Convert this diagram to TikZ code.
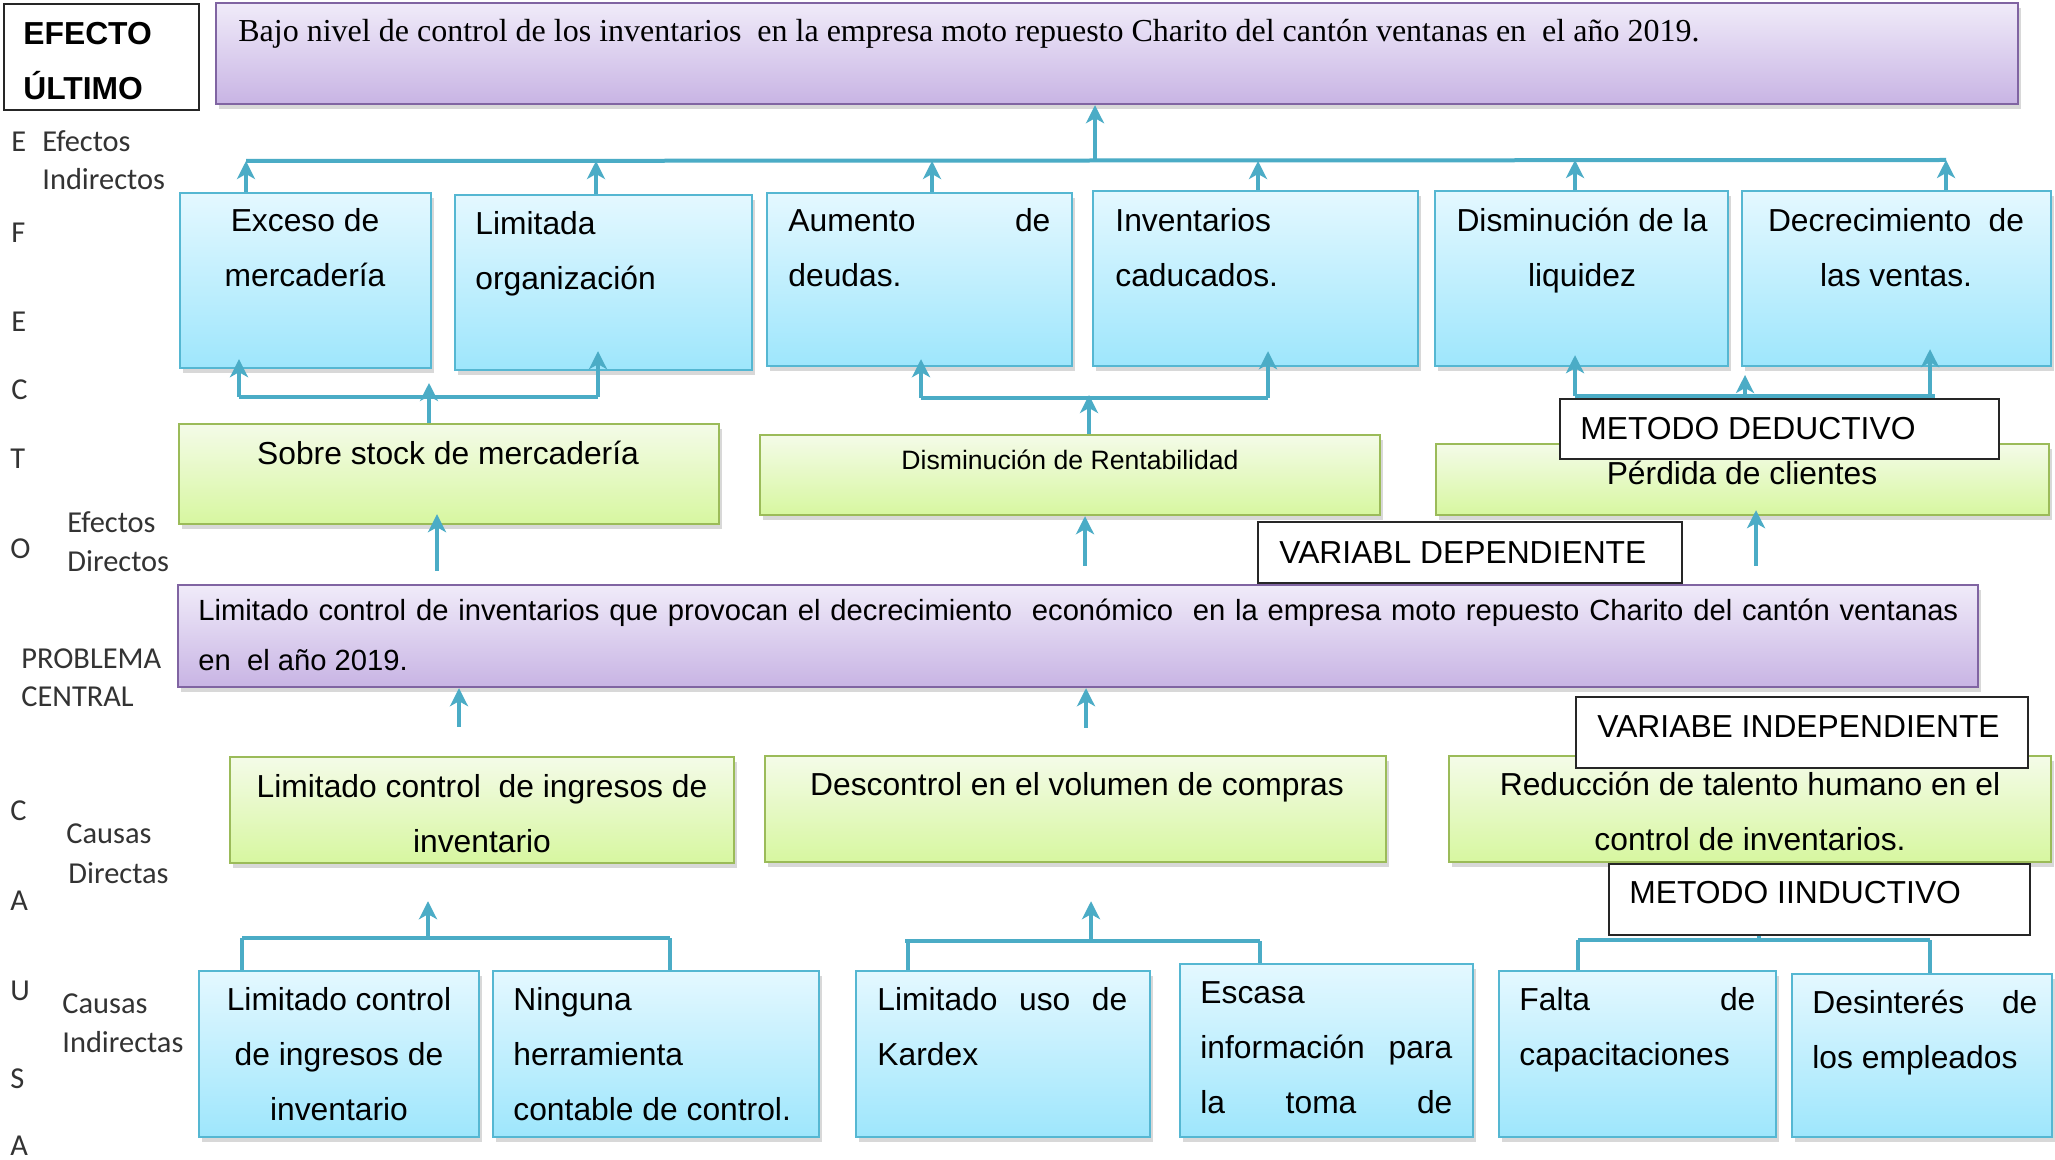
\documentclass[tikz,border=0pt]{standalone}
\usepackage{fontspec}
\setmainfont{Liberation Sans}
\newfontfamily\tmsfont{Liberation Serif}
\newfontfamily\calfont{Carlito}
\usetikzlibrary{arrows.meta,shadows,fit}
\newlength\px \setlength\px{0.5pt}
\definecolor{arrowc}{RGB}{75,172,198}
\definecolor{bluebd}{RGB}{85,183,210}
\definecolor{bluetop}{RGB}{228,248,255}
\definecolor{bluebot}{RGB}{158,230,252}
\definecolor{greenbd}{RGB}{155,187,89}
\definecolor{greentop}{RGB}{244,251,232}
\definecolor{greenbot}{RGB}{215,247,160}
\definecolor{purpbd}{RGB}{128,100,162}
\definecolor{purptop}{RGB}{240,235,249}
\definecolor{purpbot}{RGB}{200,180,228}
\newcommand\Lc[2][55]{\vtop{\baselineskip=#1\px\lineskiplimit=-100pt\halign{\hfil##\hfil\cr#2\crcr}}}
\newcommand\Ll[2][55]{\vtop{\baselineskip=#1\px\lineskiplimit=-100pt\halign{##\hfil\cr#2\crcr}}}
\begin{document}
\begin{tikzpicture}[x=0.5pt,y=-0.5pt,
  box/.style={inner sep=0pt, line width=1.2pt},
  shad/.style={drop shadow={shadow xshift=1.5pt,shadow yshift=-2.5pt,opacity=.3}},
  bluebox/.style={box, shad, draw=bluebd, top color=bluetop, bottom color=bluebot},
  greenbox/.style={box, shad, draw=greenbd, top color=greentop, bottom color=greenbot},
  purpbox/.style={box, shad, draw=purpbd, top color=purptop, bottom color=purpbot},
  whitebox/.style={inner sep=0pt, draw=black!85, line width=0.9pt, fill=white},
  txt/.style={inner sep=0pt, anchor=base west, font=\fontsize{15.9}{19}\selectfont},
  ctxt/.style={txt, anchor=base},
  lbl/.style={inner sep=0pt, anchor=base west, text=black!80, font=\calfont\fontsize{15.2}{18}\selectfont},
  conn/.style={draw=arrowc, line width=2pt},
  arr/.style={conn, -{Stealth[length=9pt,width=9pt,inset=2.5pt]}},
]
\useasboundingbox (0,0) rectangle (2055,1160);
\fill[white] (0,0) rectangle (2055,1160);

% ---------- boxes ----------
\node[purpbox, fit={(216,3)(2018,104)}] (top) {};
\node[bluebox, fit={(180,193)(431,368)}] (e1) {};
\node[bluebox, fit={(455,195)(752,370)}] (e2) {};
\node[bluebox, fit={(767,193)(1072,366)}] (e3) {};
\node[bluebox, fit={(1093,191)(1418,366)}] (e4) {};
\node[bluebox, fit={(1435,191)(1728,366)}] (e5) {};
\node[bluebox, fit={(1742,191)(2051,366)}] (e6) {};
\node[greenbox, fit={(179,424)(719,524)}] (d1) {};
\node[greenbox, fit={(760,435)(1380,515)}] (d2) {};
\node[greenbox, fit={(1436,444)(2049,515)}] (d3) {};
\node[purpbox, fit={(178,585)(1978,687)}] (prob) {};
\node[greenbox, fit={(230,757)(734,863)}] (c1) {};
\node[greenbox, fit={(765,756)(1386,862)}] (c2) {};
\node[greenbox, fit={(1449,756)(2051,862)}] (c3) {};
\node[bluebox, fit={(199,971)(479,1137)}] (i1) {};
\node[bluebox, fit={(493,971)(819,1137)}] (i2) {};
\node[bluebox, fit={(856,971)(1150,1137)}] (i3) {};
\node[bluebox, fit={(1180,964)(1473,1137)}] (i4) {};
\node[bluebox, fit={(1499,971)(1776,1137)}] (i5) {};
\node[bluebox, fit={(1792,974)(2052,1137)}] (i6) {};

% ---------- connectors ----------
\coordinate (tb1) at (246,161);
\coordinate (tb2) at (596,161);
\coordinate (tb3) at (932,161);
\coordinate (tb4) at (1258,161);
\coordinate (tb5) at (1575,160);
\coordinate (tb6) at (1946,160);
\coordinate (tbm) at (1095,161);
\draw[conn] (tb1) -- (tb6);
\draw[arr] (tbm) -- (top.south -| tbm);
\draw[arr] (e1.north -| tb1) -- (tb1);
\draw[arr] (e2.north -| tb2) -- (tb2);
\draw[arr] (e3.north -| tb3) -- (tb3);
\draw[arr] (e4.north -| tb4) -- (tb4);
\draw[arr] (e5.north -| tb5) -- (tb5);
\draw[arr] (e6.north -| tb6) -- (tb6);

% group 1
\coordinate (g1l) at (239,397);
\coordinate (g1r) at (598,397);
\coordinate (g1m) at (429,397);
\draw[conn] (g1l) -- (g1r);
\draw[arr, shorten >=-5pt] (g1l) -- (e1.south -| g1l);
\draw[arr, shorten >=-10pt] (g1r) -- (e2.south -| g1r);
\draw[arr, shorten >=-7pt] (d1.north -| g1m) -- (g1m);
% group 2
\coordinate (g2l) at (921,398);
\coordinate (g2r) at (1268,398);
\coordinate (g2m) at (1089,398);
\draw[conn] (g2l) -- (g2r);
\draw[arr, shorten >=-4pt] (g2l) -- (e3.south -| g2l);
\draw[arr, shorten >=-8pt] (g2r) -- (e4.south -| g2r);
\draw[arr, shorten >=-1.5pt] (d2.north -| g2m) -- (g2m);
% group 3
\coordinate (g3l) at (1575,396);
\coordinate (g3r) at (1935,396);
\coordinate (g3v) at (1930,396);
\coordinate (g3m) at (1745,396);
\draw[conn] (g3l) -- (g3r);
\draw[arr, shorten >=-6pt] (g3l) -- (e5.south -| g3l);
\draw[arr, shorten >=-9pt] (g3v) -- (e6.south -| g3v);
\draw[arr, shorten >=-10.5pt] (d3.north -| g3m) -- (g3m);

% problem -> direct effects
\coordinate (px1) at (437,585);
\coordinate (px2) at (1085,585);
\coordinate (px3) at (1756,585);
\draw[arr, shorten <=6.5pt, shorten >=-5.5pt] (prob.north -| px1) -- (d1.south -| px1);
\draw[arr, shorten <=9pt] (prob.north -| px2) -- (d2.south -| px2);
\draw[arr, shorten <=9pt, shorten >=-3pt] (prob.north -| px3) -- (d3.south -| px3);

% direct causes -> problem
\coordinate (cx1) at (459,700);
\coordinate (cx2) at (1086,700);
\draw[arr, shorten <=14.5pt] (c1.north -| cx1) -- (prob.south -| cx1);
\draw[arr, shorten <=13.5pt] (c2.north -| cx2) -- (prob.south -| cx2);

% indirect group A
\coordinate (gal) at (242,938);
\coordinate (gar) at (670,938);
\coordinate (gam) at (428,938);
\draw[conn] (gal) -- (gar);
\draw[conn] (i1.north -| gal) -- (gal);
\draw[conn] (i2.north -| gar) -- (gar);
\draw[arr, shorten >=18.5pt] (gam) -- (c1.south -| gam);
% indirect group B
\coordinate (gbl) at (908,941);
\coordinate (gbr) at (1260,941);
\coordinate (gbm) at (1091,941);
\draw[conn] ([xshift=-1.5pt]gbl) -- (gbr);
\draw[conn] (i3.north -| gbl) -- (gbl);
\draw[conn] (i4.north -| gbr) -- (gbr);
\draw[arr, shorten >=19pt] (gbm) -- (c2.south -| gbm);
% indirect group C
\coordinate (gcl) at (1578,940);
\coordinate (gcr) at (1930,940);
\coordinate (gcm) at (1759,940);
\draw[conn] (gcl) -- (gcr);
\draw[conn] (i5.north -| gcl) -- (gcl);
\draw[conn] (i6.north -| gcr) -- (gcr);
\draw[arr, shorten >=19pt] (gcm) -- (c3.south -| gcm);

% ---------- white label boxes ----------
\node[whitebox, fit={(4,4)(199,110)}] (efu) {};
\node[whitebox, fit={(1560,399)(1999,459)}] (metded) {};
\node[whitebox, fit={(1258,522)(1682,583)}] (vardep) {};
\node[whitebox, fit={(1576,697)(2028,768)}] (varind) {};
\node[whitebox, fit={(1609,864)(2030,935)}] (metind) {};

% ---------- texts ----------
\node[txt, font=\bfseries\fontsize{15.9}{19}\selectfont] (efut) at (23,45) {\Ll{EFECTO\cr ÚLTIMO}};
\node[txt, font=\tmsfont\fontsize{16}{19}\selectfont] (topt) at (238,42) {Bajo nivel de control de los inventarios\ \ en la empresa moto repuesto Charito del cantón ventanas en\ \ el año 2019.};

\node[ctxt] (e1t) at (305,232) {\Lc{Exceso de\cr mercadería}};
\node[txt] (e2t) at (475,235) {\Ll{Limitada\cr organización}};
\node[txt] (e3t) at (788,232) {\Ll{\makebox[262\px][s]{Aumento de}\cr deudas.}};
\node[txt] (e4t) at (1115,232) {\Ll{Inventarios\cr caducados.}};
\node[ctxt] (e5t) at (1582,232) {\Lc{Disminución de la\cr liquidez}};
\node[ctxt] (e6t) at (1896,232) {\Lc{\makebox[256\px][s]{Decrecimiento de}\cr las ventas.}};

\node[ctxt] (d1t) at (448,465) {Sobre stock de mercadería};
\node[ctxt, font=\fontsize{13.3}{16}\selectfont] (d2t) at (1070,469) {Disminución de Rentabilidad};
\node[ctxt] (d3t) at (1742,484) {Pérdida de clientes};

\node[txt, font=\fontsize{14.6}{17}\selectfont] (pt) at (198,620) {\Ll[50]{\makebox[1760\px][s]{Limitado control de inventarios que provocan el decrecimiento\ \ económico\ \ en la empresa moto repuesto Charito del cantón ventanas}\cr en\ \ el año 2019.}};

\node[ctxt] (c1t) at (482,797) {\Lc{Limitado control\ \ de ingresos de\cr inventario}};
\node[ctxt] (c2t) at (1077,795) {Descontrol en el volumen de compras};
\node[ctxt] (c3t) at (1750,795) {\Lc{Reducción de talento humano en el\cr control de inventarios.}};

\node[ctxt] (i1t) at (339,1010) {\Lc{Limitado control\cr de ingresos de\cr inventario}};
\node[txt] (i2t) at (513,1010) {\Ll{Ninguna\cr herramienta\cr contable de control.}};
\node[txt] (i3t) at (877,1010) {\Ll{\makebox[250\px][s]{Limitado uso de}\cr Kardex}};
\node[txt] (i4t) at (1200,1003) {\Ll{Escasa\cr \makebox[252\px][s]{información para}\cr \makebox[252\px][s]{la toma de}}};
\node[txt] (i5t) at (1519,1010) {\Ll{\makebox[236\px][s]{Falta de}\cr capacitaciones}};
\node[txt] (i6t) at (1812,1013) {\Ll{\makebox[225\px][s]{Desinterés de}\cr los empleados}};

\node[txt] (mdt) at (1580,439) {METODO DEDUCTIVO};
\node[txt] (vdt) at (1279,563) {VARIABL DEPENDIENTE};
\node[txt] (vit) at (1597,737) {VARIABE INDEPENDIENTE};
\node[txt] (mit) at (1629,903) {METODO IINDUCTIVO};

% ---------- left labels ----------
\node[lbl] (l1) at (11,152) {E};
\node[lbl] (l2) at (42,152) {Efectos};
\node[lbl] (l3) at (42,190) {Indirectos};
\node[lbl] (l4) at (11,243) {F};
\node[lbl] (l5) at (11,332) {E};
\node[lbl] (l6) at (11,400) {C};
\node[lbl] (l7) at (10,468) {T};
\node[lbl] (l8) at (10,558) {O};
\node[lbl] (l9) at (67,532) {Efectos};
\node[lbl] (l10) at (67,571) {Directos};
\node[lbl] (l11) at (21,668) {PROBLEMA};
\node[lbl] (l12) at (21,706) {CENTRAL};
\node[lbl] (l13) at (10,820) {C};
\node[lbl] (l14) at (66,843) {Causas};
\node[lbl] (l15) at (68,883) {Directas};
\node[lbl] (l16) at (10,910) {A};
\node[lbl] (l17) at (10,1000) {U};
\node[lbl] (l18) at (62,1013) {Causas};
\node[lbl] (l19) at (62,1052) {Indirectas};
\node[lbl] (l20) at (10,1088) {S};
\node[lbl] (l21) at (10,1155) {A};
\end{tikzpicture}
\end{document}
